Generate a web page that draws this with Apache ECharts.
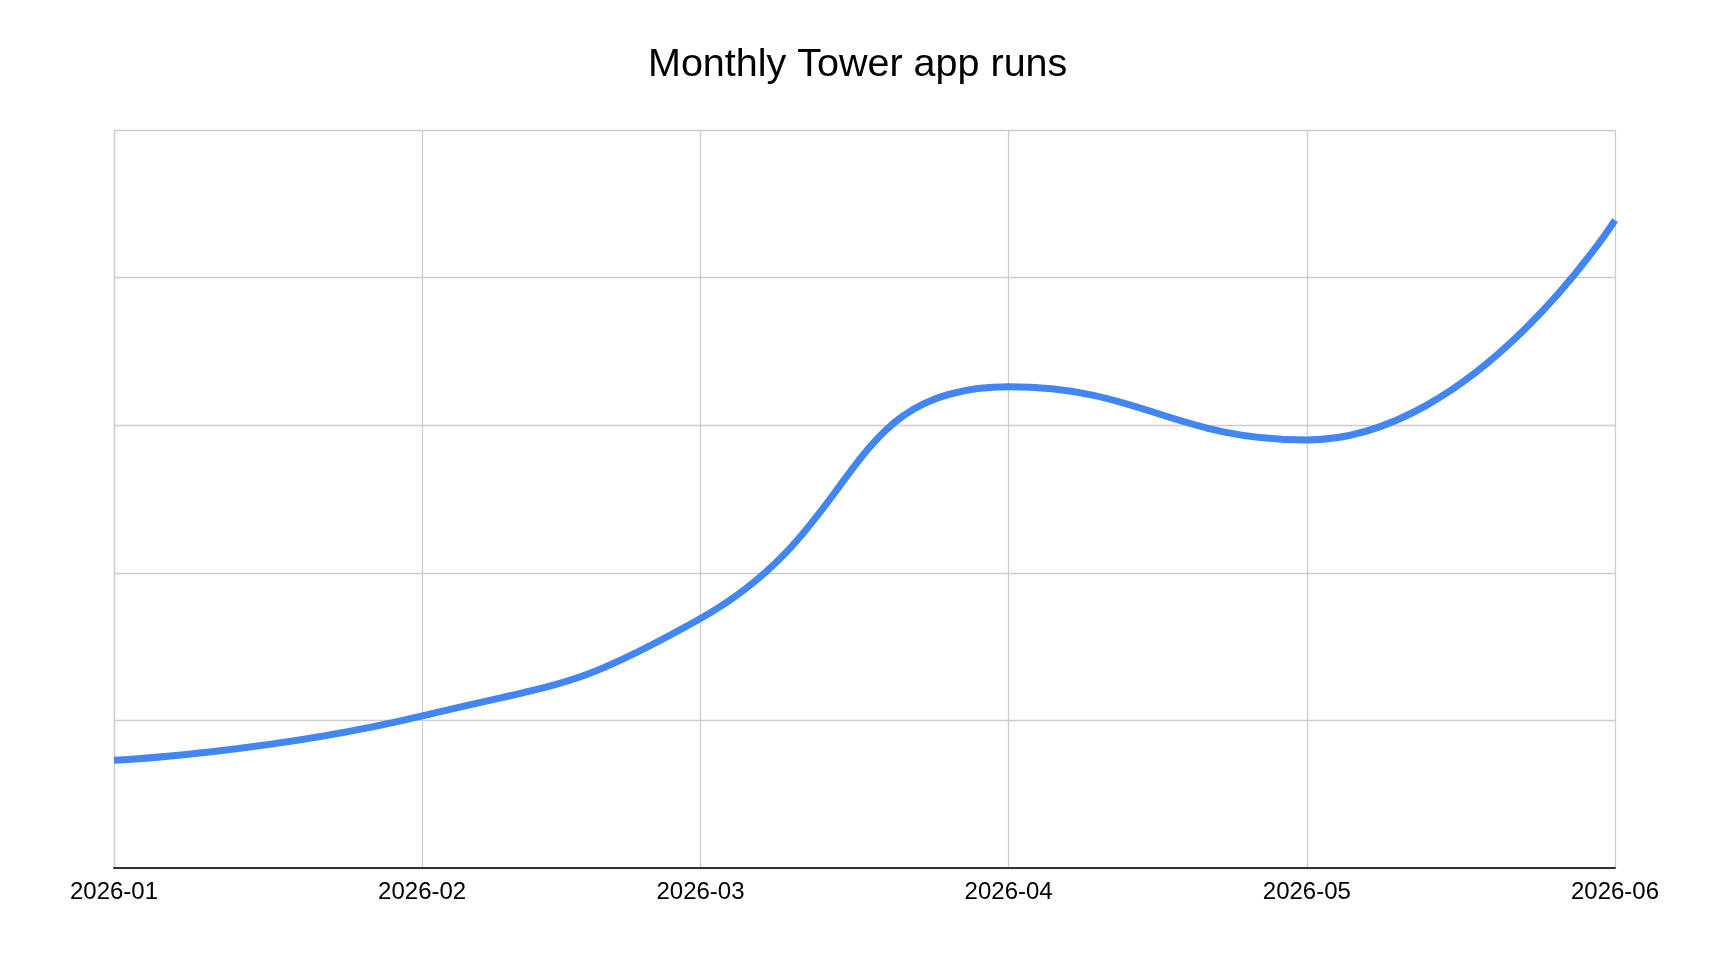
<!DOCTYPE html>
<html>
<head>
<meta charset="utf-8">
<title>Monthly Tower app runs</title>
<script src="https://cdn.jsdelivr.net/npm/echarts@6/dist/echarts.min.js"></script>
<style>
  html, body { margin: 0; padding: 0; background: #fff; }
  #myChart { width: 1728px; height: 958px; }
</style>
</head>
<body>
<div id="myChart"></div>
<script>
// months and runs (y axis has no labels so units are grid steps)
var months = ['2026-01-01', '2026-02-01', '2026-03-01', '2026-04-01', '2026-05-01', '2026-06-01'];
var runs = [0.73, 1.03, 1.69, 3.26, 2.90, 4.39];

var myChart = echarts.init(document.getElementById('myChart'));
window.onresize = myChart.resize;

var points = [];
for (var i = 0; i < months.length; i++) {
    points.push([months[i], runs[i]]);
}

var DAY = 24 * 3600 * 1000;

myChart.setOption({
    animation: false,
    title: {
        text: 'Monthly Tower app runs',
        left: 643,
        top: 40,
        textStyle: {fontFamily: 'Liberation Sans, Arial, sans-serif', fontSize: 39.5, fontWeight: 'normal', color: '#000'}
    },
    grid: {left: 114, right: 113, top: 130, bottom: 90, containLabel: false},
    xAxis: {
        type: 'time',
        min: months[0],
        max: months[months.length - 1],
        minInterval: 28 * DAY,
        maxInterval: 31 * DAY,
        axisLine: {show: true, lineStyle: {color: '#333', width: 2}},
        axisTick: {show: false},
        splitLine: {show: true, lineStyle: {color: '#ccc', width: 1.3}},
        axisLabel: {
            showMinLabel: true,
            showMaxLabel: true,
            margin: 12,
            color: '#000',
            fontSize: 24,
            fontFamily: 'Liberation Sans, Arial, sans-serif',
            formatter: function (value) {
                return echarts.time.format(value, '{yyyy}-{MM}', false);
            }
        }
    },
    yAxis: {
        type: 'value',
        min: 0,
        max: 5,
        interval: 1,
        axisLine: {show: false},
        axisTick: {show: false},
        axisLabel: {show: false},
        splitLine: {show: true, lineStyle: {color: '#ccc', width: 1.3}}
    },
    series: [{
        name: 'Runs',
        type: 'line',
        data: points,
        smooth: 0.5,
        showSymbol: false,
        symbol: 'none',
        lineStyle: {color: '#4285f4', width: 7}
    }]
});
</script>
</body>
</html>
